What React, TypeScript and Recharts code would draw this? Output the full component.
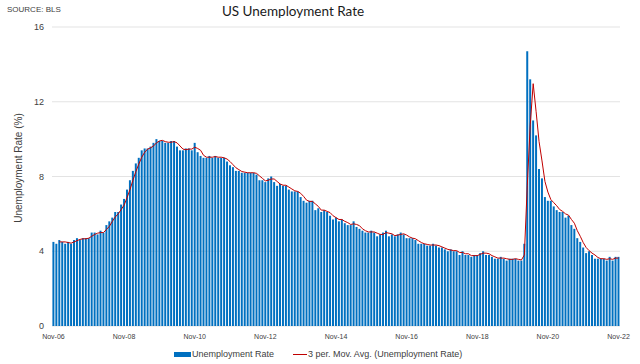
import {
  ComposedChart,
  Bar,
  Line,
  XAxis,
  YAxis,
  CartesianGrid,
  Legend,
} from 'recharts'

// monthly, seasonally adjusted, Nov 2006 .. Nov 2022
const rate2006 = [4.5, 4.4]
const rate2007 = [4.6, 4.5, 4.4, 4.5, 4.4, 4.6, 4.7, 4.6, 4.7, 4.7, 4.7, 5.0]
const rate2008 = [5.0, 4.9, 5.1, 5.0, 5.4, 5.6, 5.8, 6.1, 6.1, 6.5, 6.8, 7.3]
const rate2009 = [7.8, 8.3, 8.7, 9.0, 9.4, 9.5, 9.5, 9.6, 9.8, 10.0, 9.9, 9.9]
const rate2010 = [9.8, 9.8, 9.9, 9.9, 9.6, 9.4, 9.4, 9.5, 9.5, 9.4, 9.8, 9.3]
const rate2011 = [9.1, 9.0, 9.0, 9.1, 9.0, 9.1, 9.0, 9.0, 9.0, 8.8, 8.6, 8.5]
const rate2012 = [8.3, 8.3, 8.2, 8.2, 8.2, 8.2, 8.2, 8.1, 7.8, 7.8, 7.7, 7.9]
const rate2013 = [8.0, 7.7, 7.5, 7.6, 7.5, 7.5, 7.3, 7.2, 7.2, 7.2, 6.9, 6.7]
const rate2014 = [6.6, 6.7, 6.7, 6.2, 6.3, 6.1, 6.2, 6.1, 5.9, 5.7, 5.8, 5.6]
const rate2015 = [5.7, 5.5, 5.4, 5.4, 5.6, 5.3, 5.2, 5.1, 5.0, 5.0, 5.1, 5.0]
const rate2016 = [4.8, 4.9, 5.0, 5.1, 4.8, 4.9, 4.8, 4.9, 5.0, 4.9, 4.7, 4.7]
const rate2017 = [4.7, 4.6, 4.4, 4.4, 4.4, 4.3, 4.3, 4.4, 4.3, 4.2, 4.2, 4.1]
const rate2018 = [4.0, 4.1, 4.0, 4.0, 3.8, 4.0, 3.8, 3.8, 3.7, 3.8, 3.8, 3.9]
const rate2019 = [4.0, 3.8, 3.8, 3.7, 3.6, 3.6, 3.7, 3.6, 3.5, 3.6, 3.6, 3.6]
const rate2020 = [3.5, 3.5, 4.4, 14.7, 13.2, 11.0, 10.2, 8.4, 7.9, 6.9, 6.7, 6.7]
const rate2021 = [6.4, 6.2, 6.1, 6.1, 5.8, 5.9, 5.4, 5.2, 4.7, 4.5, 4.2, 3.9]
const rate2022 = [4.0, 3.8, 3.6, 3.6, 3.6, 3.6, 3.5, 3.7, 3.5, 3.7, 3.7]

const rates = [
  ...rate2006, ...rate2007, ...rate2008, ...rate2009, ...rate2010, ...rate2011,
  ...rate2012, ...rate2013, ...rate2014, ...rate2015, ...rate2016, ...rate2017,
  ...rate2018, ...rate2019, ...rate2020, ...rate2021, ...rate2022,
]

const monthNames = ['Jan', 'Feb', 'Mar', 'Apr', 'May', 'Jun', 'Jul', 'Aug', 'Sep', 'Oct', 'Nov', 'Dec']
const startYear = 2006
const startMonth = 10 // Nov

const months = rates.map((_, i) => {
  const m = (startMonth + i) % 12
  const y = startYear + Math.floor((startMonth + i) / 12)
  return `${monthNames[m]}-${String(y).slice(2)}`
})

const yTicks = [0, 4, 8, 12, 16]

// 3 period trailing moving average, like the Excel trendline
const data = rates.map((v, i) => ({
  month: months[i],
  rate: v,
  avg: i >= 2 ? (rates[i] + rates[i - 1] + rates[i - 2]) / 3 : null,
}))

const font = '"Liberation Sans", Arial, sans-serif'

function ChartLegend() {
  return (
    <div style={{ position: 'relative', width: 640, height: 16, fontFamily: font, fontSize: 9, color: '#404040' }}>
      <div style={{ position: 'absolute', left: 174, top: 6, width: 17, height: 5, background: '#0070C0' }} />
      <div style={{ position: 'absolute', left: 192, top: 2, lineHeight: '12px' }}>Unemployment Rate</div>
      <div style={{ position: 'absolute', left: 293, top: 8, width: 14, height: 1, background: '#C00000' }} />
      <div style={{ position: 'absolute', left: 308, top: 2, lineHeight: '12px' }}>3 per. Mov. Avg. (Unemployment Rate)</div>
    </div>
  )
}

export default function App() {
  return (
    <div style={{ position: 'absolute', left: 0, top: 0, width: 640, height: 364, background: '#fff' }}>
      <div style={{ position: 'absolute', left: 7, top: 5, fontFamily: font, fontSize: 8, color: '#404040' }}>
        SOURCE: BLS
      </div>
      <div
        style={{
          position: 'absolute',
          left: 193,
          width: 200,
          top: 3,
          textAlign: 'center',
          fontFamily: 'Lato, "Open Sans", sans-serif',
          fontSize: 13.5,
          fontWeight: 400,
          color: '#1a1a1a',
        }}
      >
        US Unemployment Rate
      </div>
      <div
        style={{
          position: 'absolute',
          left: 18,
          top: 168,
          transform: 'translate(-50%, -50%) rotate(-90deg)',
          whiteSpace: 'nowrap',
          fontFamily: font,
          fontSize: 10,
          color: '#404040',
        }}
      >
        Unemployment Rate (%)
      </div>
      <ComposedChart
        width={640}
        height={364}
        data={data}
        margin={{ top: 27, right: 20, bottom: 2, left: 0 }}
        barCategoryGap="14%"
      >
        <CartesianGrid vertical={false} stroke="#E3E3E3" />
        <XAxis
          dataKey="month"
          interval={23}
          axisLine={false}
          tickLine={false}
          height={20}
          tick={{ fill: '#404040', fontSize: 7, fontFamily: font }}
        />
        <YAxis
          domain={[0, 16]}
          ticks={yTicks}
          axisLine={false}
          tickLine={false}
          width={52}
          tick={{ fill: '#404040', fontSize: 9, fontFamily: font }}
        />
        <Legend
          verticalAlign="bottom"
          height={16}
          wrapperStyle={{ left: 0, width: 640 }}
          content={() => <ChartLegend />}
        />
        <Bar dataKey="rate" fill="#0070C0" isAnimationActive={false} />
        <Line
          dataKey="avg"
          type="linear"
          stroke="#C00000"
          strokeWidth={1}
          dot={false}
          activeDot={false}
          connectNulls={false}
          isAnimationActive={false}
        />
      </ComposedChart>
    </div>
  )
}
